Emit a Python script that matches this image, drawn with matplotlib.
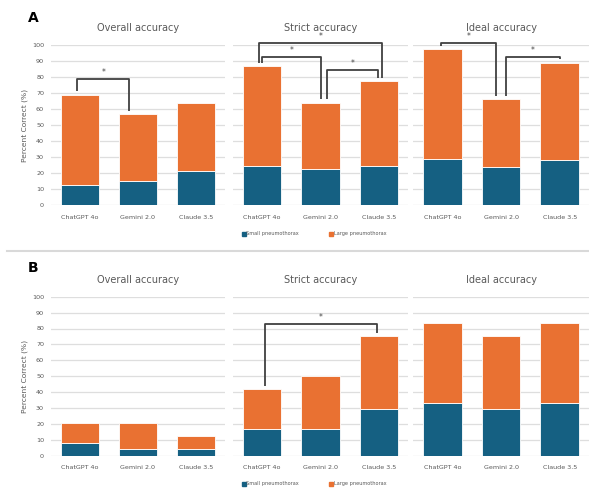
import matplotlib
matplotlib.use("Agg")
import matplotlib.pyplot as plt
from matplotlib.lines import Line2D

models = ["ChatGPT 4o", "Gemini 2.0", "Claude 3.5"]
metrics = ["Overall accuracy", "Strict accuracy", "Ideal accuracy"]
y_ticks = [0, 10, 20, 30, 40, 50, 60, 70, 80, 90, 100]

# Panel A: total and small-pneumothorax part (%)
a_total = {"Overall accuracy": [69, 57, 64],
           "Strict accuracy": [87, 64, 77.5],
           "Ideal accuracy": [97.5, 66, 89]}
a_small = {"Overall accuracy": [12.5, 15, 21],
           "Strict accuracy": [24.6, 22.5, 24.6],
           "Ideal accuracy": [29, 24, 28]}
# Panel B
b_total = {"Overall accuracy": [20.8, 20.8, 12.5],
           "Strict accuracy": [41.7, 50, 75],
           "Ideal accuracy": [83.3, 75, 83.3]}
b_small = {"Overall accuracy": [8.3, 4.2, 4.2],
           "Strict accuracy": [16.7, 16.7, 29.2],
           "Ideal accuracy": [33.3, 29.2, 33.3]}

# significance brackets: (i, j, level, dx_i, dx_j)
a_brackets = {"Overall accuracy": [(0, 1, 79, -0.05, -0.15)],
              "Strict accuracy": [(0, 2, 101.4, -0.06, 0.05),
                                  (0, 1, 92.3, 0.0, 0.0),
                                  (1, 2, 84.4, 0.11, -0.01)],
              "Ideal accuracy": [(0, 1, 101.4, -0.03, -0.08),
                                 (1, 2, 92.3, 0.08, 0.0)]}
b_brackets = {"Overall accuracy": [],
              "Strict accuracy": [(0, 2, 82.8, 0.05, -0.03)],
              "Ideal accuracy": []}

labels = ["Small pneumothorax", "Large pneumothorax"]
c_small = "#156082"
c_large = "#E97132"
txt = "#595959"
grid = "#DEDEDE"

W, H = 589, 488
fig = plt.figure(figsize=(W / 100, H / 100), dpi=100)

x_px = [(51, 225), (233, 408), (413, 589)]


def px_axes(x0, x1, y_top, y_bot):
    return fig.add_axes([x0 / W, 1 - y_bot / H, (x1 - x0) / W, (y_bot - y_top) / H])


def draw_panel(totals, smalls, brackets, y_top, y_bot, letter, letter_y, legend_y):
    for k, m in enumerate(metrics):
        ax = px_axes(x_px[k][0], x_px[k][1], y_top, y_bot)
        xs = list(range(len(models)))
        sm = smalls[m]
        lg = [t - s for t, s in zip(totals[m], sm)]
        ax.bar(xs, sm, width=0.66, color=c_small, edgecolor="white", linewidth=0.6, zorder=3)
        ax.bar(xs, lg, bottom=sm, width=0.66, color=c_large, edgecolor="white", linewidth=0.6, zorder=3)
        ax.set_xlim(-0.5, 2.5)
        ax.set_ylim(0, 100)
        ax.set_yticks(y_ticks)
        ax.yaxis.grid(True, color=grid, linewidth=0.9, zorder=0)
        ax.set_axisbelow(True)
        for s in ax.spines.values():
            s.set_visible(False)
        ax.tick_params(length=0, colors=txt, labelsize=4.6)
        ax.tick_params(axis="x", pad=7)
        ax.tick_params(axis="y", pad=5)
        ax.set_xticks(xs)
        ax.set_xticklabels(models)
        if k == 0:
            ax.set_ylabel("Percent Correct (%)", color=txt, fontsize=5.4, labelpad=3)
        else:
            ax.tick_params(labelleft=False)
        ax.set_title(m, color=txt, fontsize=7, pad=10)
        for (i, j, lev, di, dj) in brackets[m]:
            xi, xj = i + di, j + dj
            yi, yj = totals[m][i] + 2, totals[m][j] + 2
            ax.add_line(Line2D([xi, xi, xj, xj], [yi, lev, lev, yj], color="#404040",
                               linewidth=1.3, solid_joinstyle="round",
                               solid_capstyle="butt", clip_on=False, zorder=5))
            ax.text((xi + xj) / 2, lev + 1.2, "*", ha="center", va="bottom",
                    fontsize=5.5, color="#404040", clip_on=False)
    fig.text(33 / W, 1 - letter_y / H, letter, fontsize=10, fontweight="bold",
             ha="center", va="center", color="black")
    handles = [Line2D([], [], marker="s", linestyle="none", markersize=3,
                      markerfacecolor=c_small, markeredgecolor=c_small),
               Line2D([], [], marker="s", linestyle="none", markersize=3,
                      markerfacecolor=c_large, markeredgecolor=c_large)]
    fig.legend(handles, labels, loc="center", bbox_to_anchor=(314 / W, 1 - legend_y / H),
               ncol=2, frameon=False, fontsize=3.6, labelcolor=txt,
               handletextpad=0.15, columnspacing=6.0, handlelength=0.8)


draw_panel(a_total, a_small, a_brackets, 45, 205, "A", 18, 234)
draw_panel(b_total, b_small, b_brackets, 296.7, 455.7, "B", 268, 484)

fig.add_artist(Line2D([7 / W, 1.0], [1 - 251 / H, 1 - 251 / H], color="#D9D9D9",
                      linewidth=1.5, transform=fig.transFigure))

fig.savefig("out.png", dpi=100, facecolor="white")
